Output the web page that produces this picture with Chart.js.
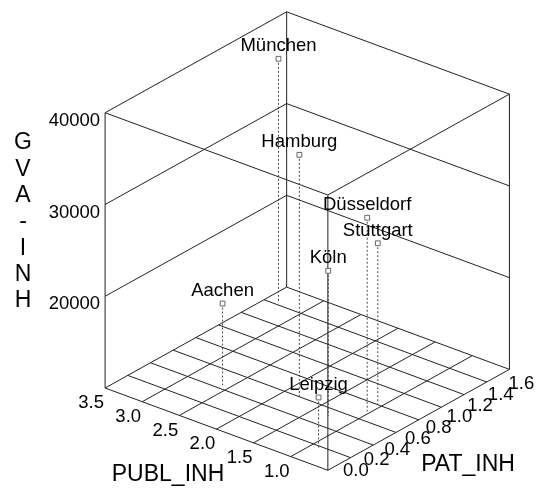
<!DOCTYPE html>
<html>
<head>
<meta charset="utf-8">
<script src="https://cdn.jsdelivr.net/npm/chart.js@4/dist/chart.umd.min.js"></script>
<style>
  html, body { margin: 0; padding: 0; background: #fff; }
  canvas { display: block; }
</style>
</head>
<body>
<canvas id="chart" width="536" height="488"></canvas>
<script>
// Regional indicators per inhabitant
const cities  = ['Aachen', 'Düsseldorf', 'Hamburg', 'Köln', 'Leipzig', 'München', 'Stuttgart'];
const patInh  = [0.44, 0.70, 0.58, 0.52, 0.18, 1.43, 0.80];
const publInh = [2.59, 1.04, 1.77, 1.29, 0.90, 3.35, 1.05];
const gvaInh  = [18900, 31100, 36600, 25800, 15500, 36500, 27600];

// Axis ranges and tick labels
const patRange  = [0, 1.6];
const publRange = [0.5, 3.5];
const gvaRange  = [10000, 40000];
const patTicks  = ['0.0', '0.2', '0.4', '0.6', '0.8', '1.0', '1.2', '1.4', '1.6'];
const publTicks = ['3.5', '3.0', '2.5', '2.0', '1.5', '1.0'];
const gvaTicks  = ['20000', '30000', '40000'];
const patGrid   = [0, 0.2, 0.4, 0.6, 0.8, 1.0, 1.2, 1.4, 1.6];
const publGrid  = [0.5, 1.0, 1.5, 2.0, 2.5, 3.0, 3.5];
const gvaLevels = [20000, 30000];

// Oblique view of the data cube on the page plane
const view = {
  origin: [329, 475],
  pat:    [185, -103],
  publ:   [-227, -84],
  gva:    [0, -281]
};

function norm(v, r) { return (v - r[0]) / (r[1] - r[0]); }
function project(p, q, g) {
  const a = norm(p, patRange), b = norm(q, publRange), c = norm(g, gvaRange);
  return {
    x: view.origin[0] + a * view.pat[0] + b * view.publ[0] + c * view.gva[0],
    y: view.origin[1] + a * view.pat[1] + b * view.publ[1] + c * view.gva[1]
  };
}
// Join 3D segments into one polyline with gaps
function segments(list) {
  const out = [];
  list.forEach(([s, e]) => {
    out.push(project(...s), project(...e), { x: null, y: null });
  });
  return out;
}

const P0 = patRange[0], P1 = patRange[1];
const Q0 = publRange[0], Q1 = publRange[1];
const G0 = gvaRange[0], G1 = gvaRange[1];

// Floor grid (includes floor edges)
const floorSegs = [];
publGrid.forEach(q => floorSegs.push([[P0, q, G0], [P1, q, G0]]));
patGrid.forEach(p => floorSegs.push([[p, Q0, G0], [p, Q1, G0]]));

// Box frame: vertical edges and top edges
const frameSegs = [
  [[P0, Q0, G0], [P0, Q0, G1]],
  [[P1, Q0, G0], [P1, Q0, G1]],
  [[P0, Q1, G0], [P0, Q1, G1]],
  [[P1, Q1, G0], [P1, Q1, G1]],
  [[P0, Q0, G1], [P1, Q0, G1]],
  [[P0, Q1, G1], [P1, Q1, G1]],
  [[P0, Q0, G1], [P0, Q1, G1]],
  [[P1, Q0, G1], [P1, Q1, G1]]
];
// Level lines on the two back walls
gvaLevels.forEach(g => {
  frameSegs.push([[P0, Q1, g], [P1, Q1, g]]);
  frameSegs.push([[P1, Q1, g], [P1, Q0, g]]);
});

// Drop lines from each city down to the floor
const dropSegs = cities.map((c, i) => [[patInh[i], publInh[i], gvaInh[i]], [patInh[i], publInh[i], G0]]);
const cityPoints = cities.map((c, i) => project(patInh[i], publInh[i], gvaInh[i]));

const lineColor = '#222';
const FONT = '"Liberation Sans", Arial, sans-serif';

const textPlugin = {
  id: 'cubeText',
  afterDatasetsDraw(chart) {
    const ctx = chart.ctx;
    const xs = chart.scales.x, ys = chart.scales.y;
    const px = pt => ({ x: xs.getPixelForValue(pt.x), y: ys.getPixelForValue(pt.y) });
    ctx.save();
    ctx.fillStyle = '#000';

    // City names above their markers
    ctx.font = '18.5px ' + FONT;
    ctx.textAlign = 'center';
    ctx.textBaseline = 'alphabetic';
    cityPoints.forEach((pt, i) => {
      const p = px(pt);
      ctx.fillText(cities[i], p.x, p.y - 7.5);
    });

    // GVA ticks on the left column
    ctx.textAlign = 'right';
    ctx.textBaseline = 'middle';
    gvaTicks.forEach(t => {
      const p = px(project(P0, Q1, +t));
      ctx.fillText(t, p.x - 5, p.y + 8);
    });

    // PUBL ticks along the left floor edge
    ctx.textAlign = 'center';
    publTicks.forEach(t => {
      const p = px(project(P0, +t, G0));
      ctx.fillText(t, p.x - 14, p.y + 15);
    });

    // PAT ticks along the right floor edge
    patTicks.forEach(t => {
      const p = px(project(+t, Q0, G0));
      const k = norm(+t, patRange);
      ctx.fillText(t, p.x + 28 - 16 * k, p.y + 1 + 14 * k);
    });

    // Axis titles
    ctx.font = '23px ' + FONT;
    ctx.textAlign = 'center';
    ctx.textBaseline = 'middle';
    ctx.fillText('PUBL_INH', 168, 475);
    ctx.fillText('PAT_INH', 468, 465);
    'GVA-INH'.split('').forEach((ch, i) => ctx.fillText(ch, 23, 143 + 26.3 * i));
    ctx.restore();
  }
};

new Chart(document.getElementById('chart'), {
  type: 'scatter',
  data: {
    datasets: [
      {
        label: 'cities',
        data: cityPoints,
        pointStyle: 'rect',
        pointRadius: 3.4,
        pointBackgroundColor: '#fff',
        pointBorderColor: '#666',
        pointBorderWidth: 1,
        showLine: false
      },
      {
        label: 'drops',
        data: segments(dropSegs),
        showLine: true,
        spanGaps: false,
        borderColor: '#444',
        borderWidth: 1,
        borderDash: [2, 2],
        pointRadius: 0
      },
      {
        label: 'frame',
        data: segments(frameSegs),
        showLine: true,
        spanGaps: false,
        borderColor: lineColor,
        borderWidth: 1,
        pointRadius: 0
      },
      {
        label: 'floor',
        data: segments(floorSegs),
        showLine: true,
        spanGaps: false,
        borderColor: lineColor,
        borderWidth: 1,
        pointRadius: 0
      }
    ]
  },
  options: {
    responsive: false,
    animation: false,
    layout: { padding: 0 },
    plugins: { legend: { display: false }, tooltip: { enabled: false } },
    scales: {
      x: { type: 'linear', min: 0, max: 536, display: false },
      y: { type: 'linear', min: 0, max: 488, reverse: true, display: false }
    }
  },
  plugins: [textPlugin]
});
</script>
</body>
</html>
